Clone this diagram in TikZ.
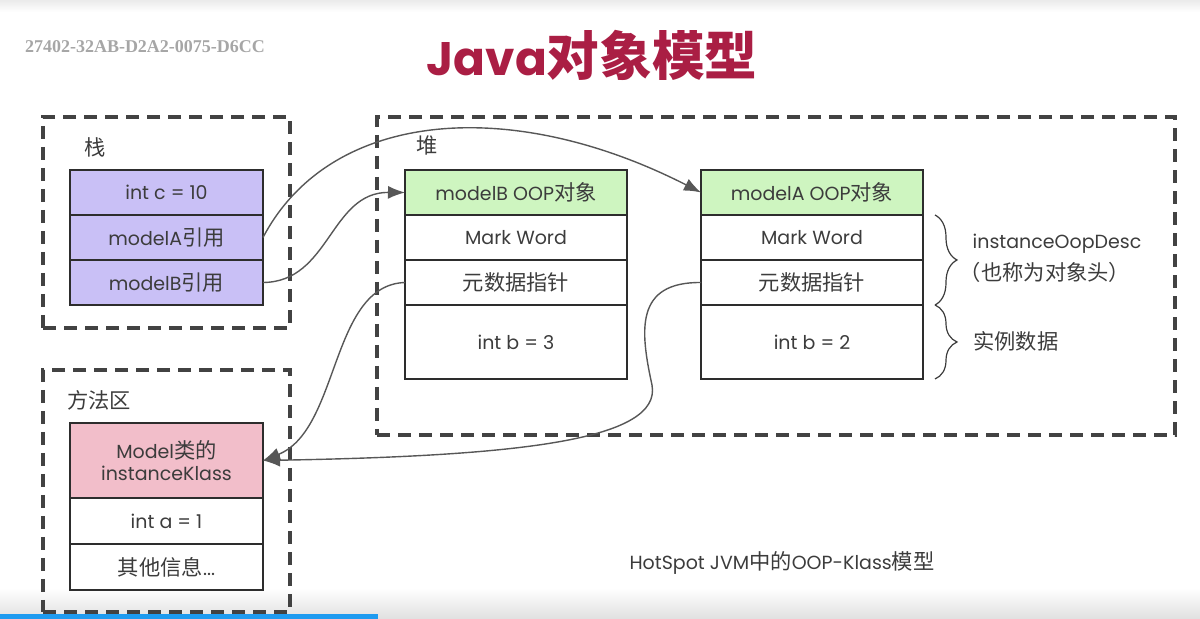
\documentclass[tikz,border=0pt]{standalone}
\usepackage{fontspec}
\setmainfont{Poppins}
\newfontfamily\cjk[Scale=1.12]{Noto Sans CJK SC}
\newfontfamily\wmfont{Liberation Serif}
\usepackage{xcolor}
\usetikzlibrary{arrows.meta,positioning,decorations.pathreplacing}

\definecolor{textc}{RGB}{60,60,60}
\definecolor{linec}{RGB}{45,45,45}
\definecolor{stackc}{RGB}{201,192,246}
\definecolor{oopc}{RGB}{206,245,192}
\definecolor{klassc}{RGB}{242,190,202}
\definecolor{titlec}{RGB}{170,30,68}
\definecolor{barc}{RGB}{30,155,240}

\begin{document}
\begin{tikzpicture}[
  x=0.5pt, y=-0.5pt,
  cell/.style={draw=linec, line width=1.3pt, outer sep=0pt, inner sep=0pt,
               minimum width=96.5pt, minimum height=22.5pt, align=center,
               font=\fontsize{9.5}{11}\selectfont, text=textc},
  objcell/.style={cell, minimum width=111pt},
  region/.style={draw=linec!90, line width=1.6pt, dash pattern=on 6.5pt off 4pt,
                 outer sep=0pt, inner sep=0pt, anchor=north west},
  area/.style={font=\fontsize{9.5}{11}\selectfont, text=textc, anchor=west, inner sep=0pt},
  ref/.style={-{Latex[length=8.5pt,width=6.5pt]}, draw=linec!80, line width=0.7pt},
  brace/.style={decorate, decoration={brace, amplitude=11pt}, draw=textc, line width=0.6pt}
]
\useasboundingbox (0,0) rectangle (1200,619);
\shade[top color=white, bottom color=black!12] (0,588) rectangle (1200,619);
\shade[top color=black!8, bottom color=white] (0,0) rectangle (1200,12);

% titles
\node[font=\fontsize{23.5}{26}\bfseries, text=titlec] (title) at (592,55) {Java{\cjk 对象模型}};
\node[font=\wmfont\fontsize{9}{10}\bfseries, text=black!35] (wm) at (145,47) {27402-32AB-D2A2-0075-D6CC};

% regions
\node[region, minimum width=123.5pt, minimum height=105.5pt] (stack) at (43,117) {};
\node[region, minimum width=399pt, minimum height=159pt] (heap) at (377,117) {};
\node[region, minimum width=123.5pt, minimum height=121pt] (method) at (43,370) {};
\node[area] (stacklbl) at (84,147) {\cjk 栈};
\node[area] (heaplbl) at (416,145) {\cjk 堆};
\node[area] (methodlbl) at (67,400) {\cjk 方法区};

% stack
\node[cell, fill=stackc, anchor=north west] (intc) at (70,170) {int c = 10};
\node[cell, fill=stackc, below=0pt of intc] (refA) {modelA{\cjk 引用}};
\node[cell, fill=stackc, below=0pt of refA] (refB) {modelB{\cjk 引用}};

% heap objects
\node[objcell, fill=oopc, anchor=north west] (oopB) at (405,170) {modelB OOP{\cjk 对象}};
\node[objcell, below=0pt of oopB] (mwB) {Mark Word};
\node[objcell, below=0pt of mwB] (ptrB) {\cjk 元数据指针};
\node[objcell, below=0pt of ptrB, minimum height=37pt] (datB) {int b = 3};

\node[objcell, fill=oopc, anchor=north west] (oopA) at (701,170) {modelA OOP{\cjk 对象}};
\node[objcell, below=0pt of oopA] (mwA) {Mark Word};
\node[objcell, below=0pt of mwA] (ptrA) {\cjk 元数据指针};
\node[objcell, below=0pt of ptrA, minimum height=37pt] (datA) {int b = 2};

% method area
\node[cell, fill=klassc, anchor=north west, minimum height=37.5pt] (klass) at (70,423) {Model{\cjk 类的}\\instanceKlass};
\node[cell, below=0pt of klass, minimum height=23pt] (inta) {int a = 1};
\node[cell, below=0pt of inta, minimum height=23pt] (other) {{\cjk 其他信息}...};

% braces
\draw[brace] ([xshift=6pt]mwA.north east) -- ([xshift=6pt]ptrA.south east);
\draw[brace] ([xshift=6pt]datA.north east) -- ([xshift=6pt]datA.south east);
\node[font=\fontsize{9.5}{11}\selectfont, text=textc] (desc) at (1057,244) {instanceOopDesc};
\node[font=\fontsize{9.5}{11}\selectfont, text=textc] (desc2) at (1045,272) {\cjk （也称为对象头）};
\node[area] (inst) at (973,341) {\cjk 实例数据};

\node[font=\fontsize{9.5}{11}\selectfont, text=textc] (caption) at (782,563) {HotSpot JVM{\cjk 中的}OOP-Klass{\cjk 模型}};

% references
\draw[ref] (refA.east) .. controls (330,110) and (510,95) .. (oopA.west);
\draw[ref] (refB.east) .. controls (330,282) and (330,192) .. (oopB.west);
\draw[ref] (ptrB.west) .. controls (330,285) and (340,430) .. (klass.east);
\draw[ref] (ptrA.west) .. controls (635,282) and (640,330) .. (652,385)
  .. controls (662,440) and (520,456) .. (klass.east);

\fill[barc] (0,614) rectangle (378,619);
\end{tikzpicture}
\end{document}
